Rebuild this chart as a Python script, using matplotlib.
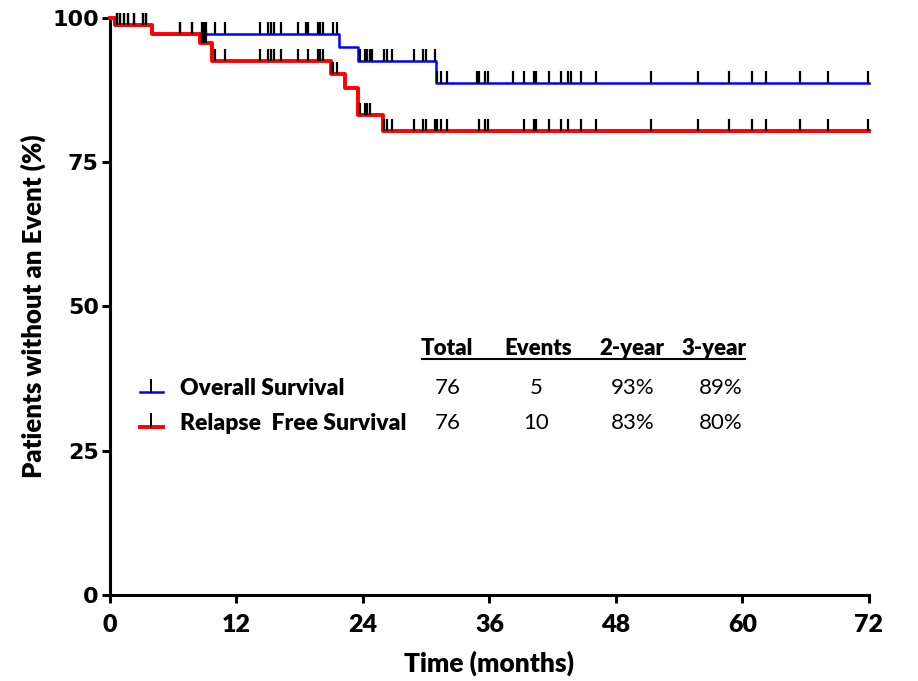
import numpy as np
import matplotlib
matplotlib.use("Agg")
import matplotlib.pyplot as plt

plt.rcParams['font.family'] = ['Lato', 'DejaVu Sans']

# Kaplan-Meier steps: time (months) where the estimate changes, and the level after it (%)
os_times = [0, 0.5, 3.95, 21.7, 23.55, 30.9, 72]
os_surv = [100, 98.7, 97.2, 94.9, 92.6, 88.8, 88.8]
rfs_times = [0, 0.5, 3.95, 8.55, 9.65, 21.0, 22.3, 23.5, 25.9, 72]
rfs_surv = [100, 98.7, 97.2, 95.6, 92.5, 90.3, 87.8, 83.2, 80.4, 80.4]

# censored patients (months)
os_censor = [0.63, 0.95, 1.33, 1.74, 2.3, 3.15, 3.4, 6.64, 7.75, 8.75, 8.95, 9.15,
             10.0, 10.88, 14.2, 15.0, 15.3, 15.6, 16.2, 17.8, 18.6, 18.8, 19.7, 19.9,
             20.2, 21.2, 21.5, 23.75, 24.2, 24.4, 24.65, 24.85, 26.0, 26.3, 26.8, 28.8,
             29.7, 30.0, 30.8, 31.05, 31.4, 32.0, 34.85, 35.0, 35.6, 35.9, 38.2, 39.25,
             40.2, 40.4, 41.65, 42.8, 43.45, 43.7, 44.7, 46.1, 51.3, 55.75, 58.75, 60.9,
             62.2, 65.5, 68.15, 71.95]
rfs_censor = [0.63, 0.95, 1.33, 1.74, 2.3, 3.15, 3.4, 6.64, 7.75, 8.75, 8.95, 9.15,
              10.0, 10.88, 14.2, 15.0, 15.3, 15.6, 16.2, 17.8, 18.8, 19.7, 19.9,
              20.2, 21.05, 21.2, 21.5, 23.75, 24.2, 24.4, 24.65, 26.0, 26.3, 26.8, 28.8,
              29.7, 30.0, 30.8, 31.05, 31.4, 32.0, 35.0, 35.6, 35.9, 39.25,
              40.2, 40.4, 41.65, 42.8, 43.45, 44.7, 46.1, 51.3, 55.75, 58.75, 60.9,
              62.2, 65.5, 68.15, 71.95]

x_ticks = [0, 12, 24, 36, 48, 60, 72]
y_ticks = [0, 25, 50, 75, 100]

series_names = ["Overall Survival", "Relapse  Free Survival"]
totals = [76, 76]
events = [5, 10]
headers = ["Total", "Events", "2-year", "3-year"]


def level_at(times, surv, t):
    i = np.searchsorted(times, t, side='right') - 1
    return np.asarray(surv)[i]


fig = plt.figure(figsize=(9.18, 6.81), dpi=100)
ax = fig.add_axes([0.1198, 0.1263, 0.8268, 0.8473])

ax.step(os_times, os_surv, where='post', color='#0000ff', lw=1.8, clip_on=False, zorder=3)
ax.step(rfs_times, rfs_surv, where='post', color='#ff0000', lw=2.8, clip_on=False, zorder=4)

ax.plot(os_censor, level_at(os_times, os_surv, os_censor), ls='none', marker=2,
        ms=8.5, mew=1.6, color='black', clip_on=False, zorder=5)
ax.plot(rfs_censor, level_at(rfs_times, rfs_surv, rfs_censor), ls='none', marker=2,
        ms=8.5, mew=1.6, color='black', clip_on=False, zorder=5)

ax.set_xlim(0, 72)
ax.set_ylim(0, 100)
ax.set_xticks(x_ticks, labels=[str(v) for v in x_ticks],
              fontsize=18, fontweight='heavy')
ax.set_yticks(y_ticks, labels=[str(v) for v in y_ticks],
              fontsize=16, fontweight='bold', fontfamily='DejaVu Sans')
for side in ['top', 'right']:
    ax.spines[side].set_visible(False)
for side in ['left', 'bottom']:
    ax.spines[side].set_linewidth(2.2)
ax.tick_params(direction='out', length=6, width=2.2)
ax.tick_params(axis='x', pad=8)
ax.tick_params(axis='y', pad=2)

ax.set_xlabel("Time (months)", fontsize=19, fontweight='heavy', labelpad=10)
ax.set_ylabel("Patients without an Event (%)", fontsize=18.5, fontweight='heavy')
ax.yaxis.set_label_coords(-0.084, 0.5)

# summary table inside the plot
col_x = [32.0, 40.6, 49.5, 57.3]
val_x = [32.0, 40.4, 49.6, 57.9]
for x, h in zip(col_x, headers):
    ax.text(x, 42.8, h, ha='center', va='center', fontsize=16, fontweight='heavy')
ax.plot([29.6, 60.2], [40.9, 40.9], color='black', lw=1.5)

row_y = [35.8, 29.8]
colors = ['#0000ff', '#ff0000']
widths = [1.8, 2.8]
curves = [(os_times, os_surv), (rfs_times, rfs_surv)]
for k in range(2):
    y = row_y[k]
    ax.plot([2.85, 5.0], [y - 0.6, y - 0.6], color=colors[k], lw=widths[k])
    ax.plot([3.9, 3.9], [y - 0.6, y + 1.5], color='black', lw=1.4)
    ax.text(6.64, y, series_names[k], ha='left', va='center', fontsize=16.5, fontweight='heavy')
    t, s = curves[k]
    vals = [str(totals[k]), str(events[k]),
            "%d%%" % round(level_at(t, s, 24)), "%d%%" % round(level_at(t, s, 36))]
    for x, v in zip(val_x, vals):
        ax.text(x, y, v, ha='center', va='center', fontsize=16)

fig.savefig("out.png", dpi=100)
